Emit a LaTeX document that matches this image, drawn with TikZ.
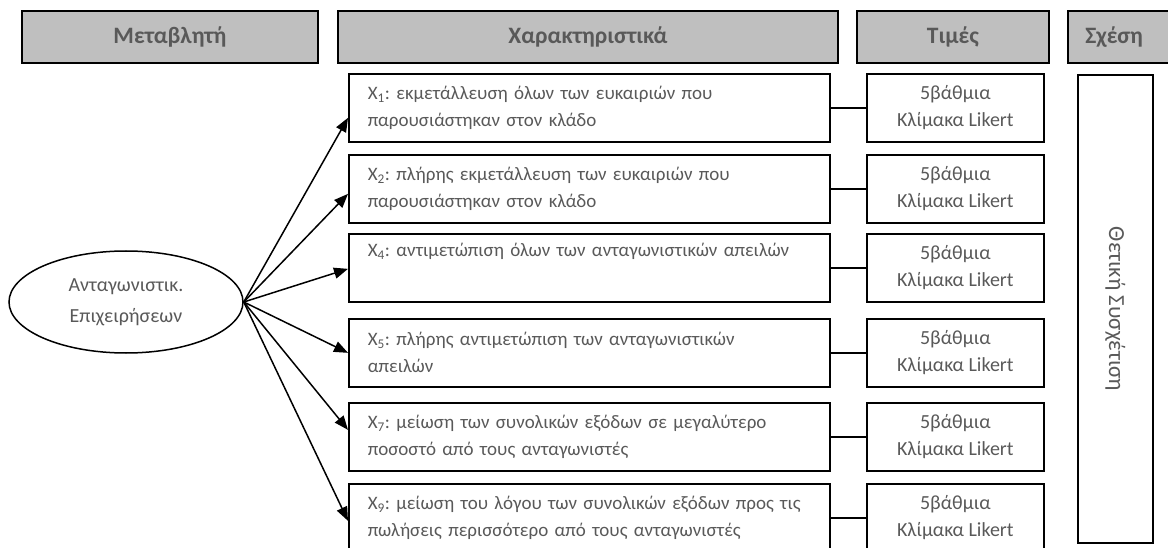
\documentclass[tikz,border=0pt]{standalone}
\usepackage{fontspec}
\setmainfont{Carlito}
\usetikzlibrary{arrows.meta,calc,shapes.geometric}
\definecolor{hdrfill}{HTML}{BFBFBF}
\definecolor{txtgray}{HTML}{595959}
\frenchspacing
\begin{document}
\begin{tikzpicture}[x=1pt,y=-1pt,
  hdr/.style={draw=black,line width=1.8pt,fill=hdrfill,minimum height=52pt,inner sep=0pt,
    font=\fontsize{23.5}{28}\selectfont\bfseries,text=txtgray,anchor=north west},
  charbox/.style={draw=black,line width=1.7pt,minimum width=481pt,minimum height=68pt,
    text width=443pt,inner xsep=19pt,inner ysep=0pt,align=left,anchor=north west,
    font=\fontsize{19}{27}\selectfont,text=txtgray},
  valbox/.style={draw=black,line width=1.7pt,minimum width=177pt,minimum height=68pt,
    inner sep=0pt,align=center,anchor=north west,
    font=\fontsize{20}{27}\selectfont,text=txtgray},
  arr/.style={line width=1.5pt,-{Triangle[length=14pt,width=11pt]}},
  link/.style={line width=1.5pt}
]
\useasboundingbox (0,0) rectangle (1168,548);
\clip (0,0) rectangle (1168,548);

% column headers
\node[hdr,minimum width=296pt] (h1) at (21,10) {Μεταβλητή};
\node[hdr,minimum width=500pt] (h2) at (337,10) {Χαρακτηριστικά};
\node[hdr,minimum width=192pt] (h3) at (856,10) {Τιμές};
\node[hdr,minimum width=123pt,text width=120pt,align=left,inner xsep=0pt] (h4) at (1067,10) {\hspace*{16pt}Σχέση};

% latent variable
\node[draw=black,line width=1.5pt,ellipse,minimum width=234pt,minimum height=102pt,inner sep=0pt,
  align=center,font=\fontsize{20}{31}\selectfont,text=txtgray] (e) at (126,302)
  {Ανταγωνιστικ.\\Επιχειρήσεων};

% indicators
\node[charbox] (x1) at (348,73) {X\textsubscript{1}: εκμετάλλευση όλων των ευκαιριών που\\παρουσιάστηκαν στον κλάδο};
\node[charbox] (x2) at (348,154) {X\textsubscript{2}: πλήρης εκμετάλλευση των ευκαιριών που\\παρουσιάστηκαν στον κλάδο};
\node[charbox] (x4) at (348,233) {X\textsubscript{4}: αντιμετώπιση όλων των ανταγωνιστικών απειλών\\\strut};
\node[charbox] (x5) at (348,318) {X\textsubscript{5}: πλήρης αντιμετώπιση των ανταγωνιστικών\\απειλών};
\node[charbox] (x7) at (348,402) {X\textsubscript{7}: μείωση των συνολικών εξόδων σε μεγαλύτερο\\ποσοστό από τους ανταγωνιστές};
\node[charbox] (x9) at (348,483) {\mbox{X\textsubscript{9}: μείωση του λόγου των συνολικών εξόδων προς τις}\\πωλήσεις περισσότερο από τους ανταγωνιστές};

% value scales
\foreach \n/\y in {1/73,2/154,4/233,5/318,7/402,9/483}{
  \node[valbox] (v\n) at (866,\y) {5βάθμια\\Κλίμακα Likert};
  \draw[link] (x\n.east) -- (v\n.west);
}

% relation column
\node[draw=black,line width=1.7pt,minimum width=75pt,minimum height=468pt,inner sep=0pt,anchor=north west] (r) at (1077,74) {};
\node[rotate=-90,font=\fontsize{23}{27}\selectfont,text=txtgray] (rt) at (r.center) {Θετική Συσχέτιση};

% paths from the latent variable
\draw[arr] (e.east) -- ($(x1.west)+(0,10)$);
\draw[arr] (e.east) -- ($(x2.west)+(0,5)$);
\draw[arr] (e.east) -- ($(x4.west)+(0,1)$);
\draw[arr] (e.east) -- (x5.west);
\draw[arr] (e.east) -- ($(x7.west)+(0,-7)$);
\draw[arr] (e.east) -- ($(x9.west)+(0,3)$);
\end{tikzpicture}
\end{document}
